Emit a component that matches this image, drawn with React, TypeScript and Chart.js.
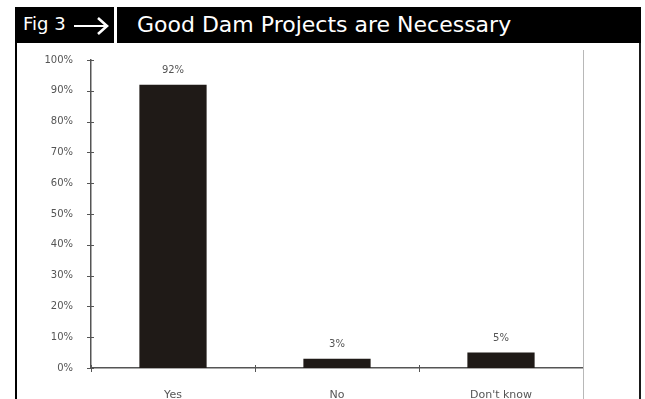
import React, { useEffect, useRef } from "react";
import { Chart, registerables } from "chart.js";

Chart.register(...registerables);

const categories = ["Yes", "No", "Don't know"];
const values = [92, 3, 5];
const yTicks = [0, 10, 20, 30, 40, 50, 60, 70, 80, 90, 100];

const TEXT_FONT = "'DejaVu Sans', sans-serif";

// Small crossing tick marks on both axes, plus the thin outer frame line on the right.
const axisMarks = {
  id: "axisMarks",
  afterDraw(chart: any) {
    const { ctx, chartArea, scales } = chart;
    const y = scales.y;
    const x = scales.x;
    ctx.save();
    ctx.strokeStyle = "#555";
    ctx.lineWidth = 1;
    ctx.beginPath();
    for (const t of yTicks) {
      const py = Math.round(y.getPixelForValue(t)) + 0.5;
      ctx.moveTo(chartArea.left - 4, py);
      ctx.lineTo(chartArea.left + 3, py);
    }
    const n = categories.length;
    const w = (chartArea.right - chartArea.left) / n;
    for (let i = 0; i <= n; i++) {
      const px = Math.round(chartArea.left + i * w) + 0.5;
      ctx.moveTo(px, x.top - 3);
      ctx.lineTo(px, x.top + 4);
    }
    ctx.stroke();
    ctx.strokeStyle = "#b8b8b8";
    ctx.beginPath();
    ctx.moveTo(Math.round(chartArea.right) + 0.5, 7);
    ctx.lineTo(Math.round(chartArea.right) + 0.5, chart.height);
    ctx.stroke();
    ctx.restore();
  },
};

// Percentage labels above each bar.
const barLabels = {
  id: "barLabels",
  afterDatasetsDraw(chart: any) {
    const { ctx } = chart;
    const meta = chart.getDatasetMeta(0);
    ctx.save();
    ctx.fillStyle = "#555";
    ctx.font = `10px ${TEXT_FONT}`;
    ctx.textAlign = "center";
    ctx.textBaseline = "bottom";
    meta.data.forEach((bar: any, i: number) => {
      ctx.fillText(`${values[i]}%`, bar.x, bar.y - 9);
    });
    ctx.restore();
  },
};

function BarChart() {
  const ref = useRef<HTMLCanvasElement>(null);
  useEffect(() => {
    if (!ref.current) return;
    const chart = new Chart(ref.current, {
      type: "bar",
      data: {
        labels: categories,
        datasets: [
          {
            data: values,
            backgroundColor: "#1f1a17",
            borderColor: "#1f1a17",
            borderWidth: 0,
            categoryPercentage: 1,
            barPercentage: 0.41,
          },
        ],
      },
      options: {
        animation: false,
        responsive: false,
        maintainAspectRatio: false,
        layout: { padding: { left: 0, right: 56, top: 17, bottom: 0 } },
        plugins: {
          legend: { display: false },
          tooltip: { enabled: false },
          title: { display: false },
        },
        scales: {
          x: {
            grid: { display: false },
            border: { display: true, color: "#555", width: 1.5 },
            ticks: {
              color: "#555",
              padding: 13,
              font: { family: TEXT_FONT, size: 11 },
              maxRotation: 0,
            },
            afterFit(scale: any) {
              scale.height = 31;
            },
          },
          y: {
            min: 0,
            max: 100,
            grid: { display: false },
            border: { display: true, color: "#555", width: 1.5 },
            ticks: {
              stepSize: 10,
              color: "#555",
              padding: 10,
              font: { family: TEXT_FONT, size: 10 },
              callback: (v: any) => `${v}%`,
            },
            afterFit(scale: any) {
              scale.width = 74;
            },
          },
        },
      },
      plugins: [axisMarks, barLabels],
    });
    return () => chart.destroy();
  }, []);
  return (
    <canvas
      ref={ref}
      width={622}
      height={356}
      style={{ position: "absolute", left: 17, top: 43, width: 622, height: 356 }}
    />
  );
}

export default function App() {
  return (
    <div
      style={{
        position: "absolute",
        left: 0,
        top: 0,
        width: 645,
        height: 399,
        background: "#fff",
        overflow: "hidden",
      }}
    >
      <div
        style={{
          position: "absolute",
          left: 15,
          top: 7,
          width: 99,
          height: 36,
          background: "#000",
          color: "#fff",
          fontFamily: TEXT_FONT,
          fontSize: 18,
        }}
      >
        <span style={{ position: "absolute", left: 8, top: 6, whiteSpace: "nowrap" }}>Fig 3</span>
        <svg
          width="38"
          height="20"
          style={{ position: "absolute", left: 58, top: 9 }}
          viewBox="0 0 38 20"
        >
          <line x1="1" y1="10" x2="34" y2="10" stroke="#fff" strokeWidth="2.2" />
          <polyline
            points="25,2 34,10 25,18"
            fill="none"
            stroke="#fff"
            strokeWidth="2.6"
          />
        </svg>
      </div>
      <div
        style={{
          position: "absolute",
          left: 117,
          top: 7,
          width: 524,
          height: 36,
          background: "#000",
          color: "#fff",
          fontFamily: TEXT_FONT,
          fontSize: 22,
        }}
      >
        <span style={{ position: "absolute", left: 20, top: 5, whiteSpace: "nowrap" }}>
          Good Dam Projects are Necessary
        </span>
      </div>
      <div style={{ position: "absolute", left: 15, top: 43, width: 2, height: 356, background: "#000" }} />
      <div style={{ position: "absolute", left: 639, top: 43, width: 2, height: 356, background: "#1a1a1a" }} />
      <BarChart />
    </div>
  );
}
